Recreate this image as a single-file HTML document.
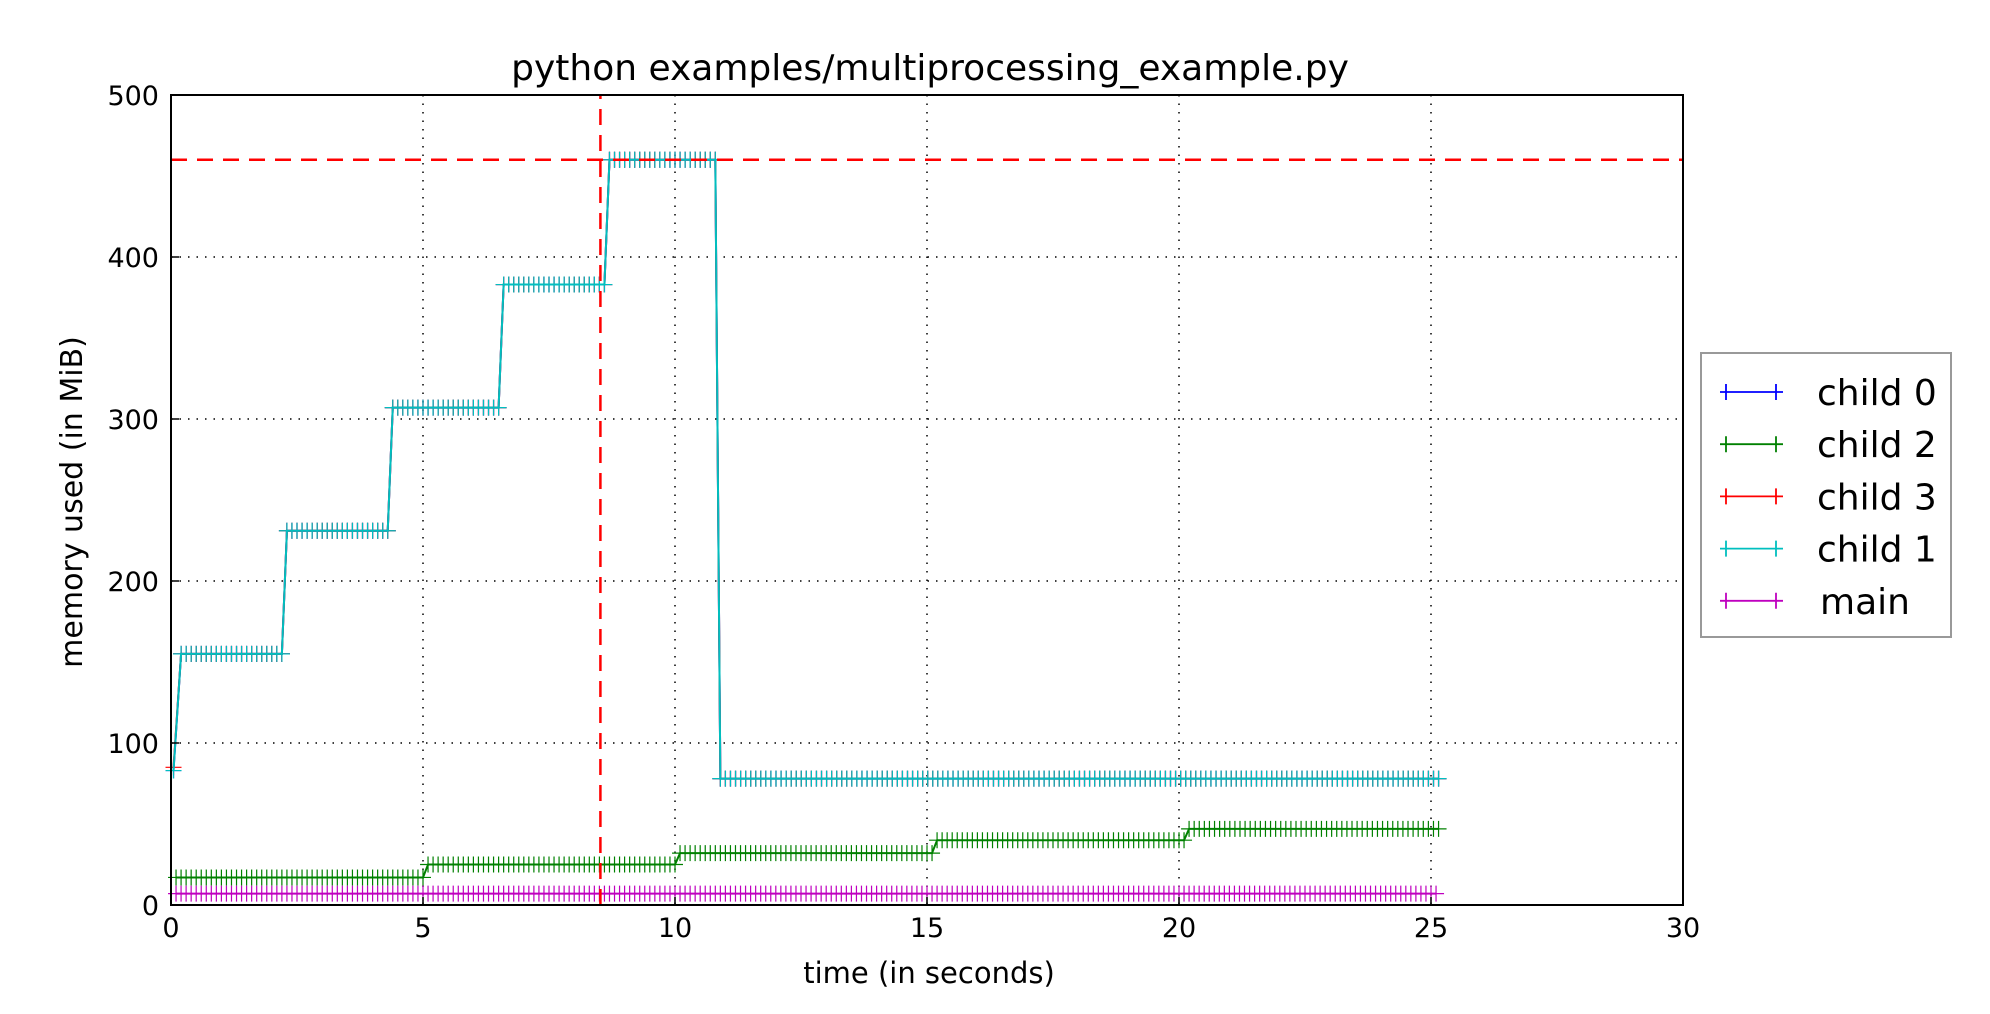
<!DOCTYPE html>
<html><head><meta charset="utf-8">
<style>
html,body{margin:0;padding:0;background:#fff;}
svg{display:block;font-family:"DejaVu Sans","Liberation Sans",sans-serif;}
</style></head>
<body>
<svg id="chart" width="1990" height="1014" viewBox="0 0 1990 1014" xmlns="http://www.w3.org/2000/svg">
<rect x="0" y="0" width="1990" height="1014" fill="#fff"/>
<g id="grid"></g>
<g id="series"></g>
<g id="axes"></g>
<text x="930" y="80" font-size="36" text-anchor="middle" fill="#000">python examples/multiprocessing_example.py</text>
<text x="929" y="983" font-size="29" text-anchor="middle" fill="#000">time (in seconds)</text>
<text x="0" y="0" font-size="30" text-anchor="middle" fill="#000" transform="translate(82,502) rotate(-90)">memory used (in MiB)</text>
<g>
<rect x="1701" y="353" width="250" height="284" fill="#fff" stroke="#999" stroke-width="2"/>
<g id="legend-items"></g>
</g>
</svg>
<script>
const xTicks = [0,5,10,15,20,25,30];
const yTicks = [0,100,200,300,400,500];
const seriesNames = ["child 0","child 2","child 3","child 1","main"];
const seriesColors = ["#0000ff","#008000","#ff0000","#00bfbf","#bf00bf"];
// breakpoints (time, MiB)
const child0T = [0.05,0.2,2.2,2.3,4.3,4.4,6.5,6.6,8.6,8.7,10.8,10.9,25.15];
const child0V = [83,155,155,231,231,307,307,383,383,460,460,78,78];
const child2T = [0.1,5.0,5.1,10.0,10.1,15.1,15.2,20.1,20.2,25.15];
const child2V = [17,17,25,25,32,32,40,40,47,47];
const child3T = [0.05,0.2,2.2,2.3,4.3,4.4,6.5,6.6,8.6,8.7,10.8,10.9,25.15];
const child3V = [85,155,155,231,231,307,307,383,383,460,460,78,78];
const child1T = [0.05,0.2,2.2,2.3,4.3,4.4,6.5,6.6,8.6,8.7,10.8,10.9,25.15];
const child1V = [83,155,155,231,231,307,307,383,383,460,460,78,78];
const mainT = [0.1,25.1];
const mainV = [7,7];
const peakValue = 460;
const peakTime = 8.52;

const seriesT = [child0T,child2T,child3T,child1T,mainT];
const seriesV = [child0V,child2V,child3V,child1V,mainV];

const L=171,R=1683,T=95,B=905;
const xMin=0,xMax=30,yMin=0,yMax=500;
const sx=v=>L+(v-xMin)/(xMax-xMin)*(R-L);
const sy=v=>B-(v-yMin)/(yMax-yMin)*(B-T);
const NS="http://www.w3.org/2000/svg";
function mk(tag,attrs,parent){const e=document.createElementNS(NS,tag);for(const k in attrs)e.setAttribute(k,attrs[k]);parent.appendChild(e);return e;}
const grid=document.getElementById('grid'),ser=document.getElementById('series'),axes=document.getElementById('axes');

xTicks.forEach(t=>{
  if(t>xMin&&t<xMax){const g=mk('line',{x1:sx(t),x2:sx(t),y1:T,y2:B,stroke:'#000','stroke-width':1.5,'stroke-dasharray':'1.5 7'},grid);
  
  }
  const tk=mk('line',{x1:sx(t),x2:sx(t),y1:B,y2:B-8,stroke:'#000','stroke-width':1.5},axes);
  
  
  const tx=mk('text',{x:sx(t),y:B+32,'font-size':27,'text-anchor':'middle',fill:'#000'},axes);
  tx.textContent=t;
  
  
});
yTicks.forEach(t=>{
  if(t>yMin&&t<yMax){const g=mk('line',{x1:L,x2:R,y1:sy(t),y2:sy(t),stroke:'#000','stroke-width':1.5,'stroke-dasharray':'1.5 7'},grid);
  
  }
  const tk=mk('line',{x1:L,x2:L+8,y1:sy(t),y2:sy(t),stroke:'#000','stroke-width':1.5},axes);
  
  
  const tx=mk('text',{x:L-12,y:sy(t)+10,'font-size':27,'text-anchor':'end',fill:'#000'},axes);
  tx.textContent=t;
  
  
});

seriesT.forEach((ts,i)=>{
  const vs=seriesV[i],c=seriesColors[i];
  const g=mk('g',{},ser);
  
  
  let d='';ts.forEach((t,j)=>{d+=(j?'L':'M')+sx(t)+' '+sy(vs[j]);});
  mk('path',{d:d,fill:'none',stroke:c,'stroke-width':2},g);
  let md='';
  const plus=(t,v)=>{const x=sx(t),y=sy(v);md+=`M${x-8} ${y}H${x+8}M${x} ${y-8}V${y+8}`;};
  plus(ts[0],vs[0]);
  for(let j=0;j<ts.length-1;j++){
    const t0=ts[j],t1=ts[j+1];
    if(vs[j]!==vs[j+1]){plus(t1,vs[j+1]);continue;}
    const n=Math.max(1,Math.round((t1-t0)/0.1));
    for(let k=1;k<=n;k++){plus(t0+(t1-t0)*k/n,vs[j]);}
  }
  mk('path',{d:md,fill:'none',stroke:c,'stroke-width':1.2},g);
});

const hl=mk('line',{x1:L,x2:R,y1:sy(peakValue),y2:sy(peakValue),stroke:'#ff0000','stroke-width':2.5,'stroke-dasharray':'16 10'},ser);


const vl=mk('line',{x1:sx(peakTime),x2:sx(peakTime),y1:T,y2:B,stroke:'#ff0000','stroke-width':2.5,'stroke-dasharray':'16 10','stroke-dashoffset':-14},ser);



const fr=mk('rect',{x:L,y:T,width:R-L,height:B-T,fill:'none',stroke:'#000','stroke-width':2},axes);



const li=document.getElementById('legend-items');
seriesNames.forEach((n,i)=>{
  const y=392+i*52.2,c=seriesColors[i];
  const g=mk('g',{},li);
  
  
  mk('path',{d:`M1720 ${y}H1783M1726 ${y-8}V${y+8}M1776 ${y-8}V${y+8}`,stroke:c,'stroke-width':1.8,fill:'none'},g);
  const t=mk('text',{x:n==='main'?1820:1817,y:y+13,'font-size':36,fill:'#000'},g);
  t.textContent=n;
});
</script>
</body></html>
